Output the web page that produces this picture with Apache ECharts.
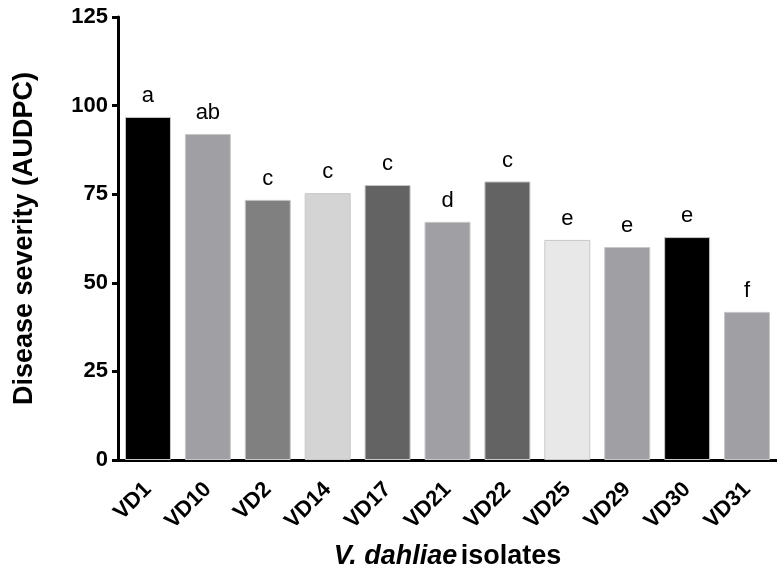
<!DOCTYPE html>
<html>
<head>
<meta charset="utf-8">
<script src="https://cdn.jsdelivr.net/npm/echarts@6/dist/echarts.min.js"></script>
<style>
  html, body { margin: 0; padding: 0; background: #fff; }
  #chart { width: 777px; height: 576px; }
</style>
</head>
<body>
<div id="chart"></div>
<script>
// 数据
const isolates = ['VD1', 'VD10', 'VD2', 'VD14', 'VD17', 'VD21', 'VD22', 'VD25', 'VD29', 'VD30', 'VD31'];
const severity = [96.8, 92.0, 73.4, 75.3, 77.6, 67.2, 78.6, 62.1, 60.1, 62.9, 41.8];
const groups = ['a', 'ab', 'c', 'c', 'c', 'd', 'c', 'e', 'e', 'e', 'f'];
const barColors = ['#000000', '#a0a0a4', '#808080', '#d4d4d4', '#636363', '#a0a0a4',
  '#636363', '#e8e8e8', '#a0a0a4', '#000000', '#a0a0a4'];
const yTicks = [0, 25, 50, 75, 100, 125];

const font = 'Liberation Sans, Arial, sans-serif';
const chart = echarts.init(document.getElementById('chart'));

const option = {
  animation: false,
  grid: { left: 118, right: -7, top: 17, bottom: 116 },
  xAxis: {
    type: 'category',
    data: isolates,
    name: '{i|V. dahliae} {n|isolates}',
    nameLocation: 'middle',
    nameGap: 83,
    nameTextStyle: {
      rich: {
        i: { fontFamily: font, fontSize: 27, fontWeight: 'bold', fontStyle: 'italic', color: '#000' },
        n: { fontFamily: font, fontSize: 27, fontWeight: 'bold', color: '#000' }
      }
    },
    axisLine: { lineStyle: { color: '#000', width: 3 } },
    axisTick: { alignWithLabel: true, length: 6, lineStyle: { color: '#000', width: 3 } },
    axisLabel: {
      rotate: 45, margin: 26, interval: 0,
      fontFamily: font, fontSize: 22, fontWeight: 'bold', color: '#000'
    }
  },
  yAxis: {
    type: 'value',
    min: 0, max: 125, interval: 25,
    name: 'Disease severity (AUDPC)',
    nameLocation: 'middle',
    nameGap: 80,
    nameTextStyle: { fontFamily: font, fontSize: 27, fontWeight: 'bold', color: '#000' },
    axisLine: { show: true, lineStyle: { color: '#000', width: 3 } },
    axisTick: { show: true, length: 6, lineStyle: { color: '#000', width: 3 } },
    axisLabel: {
      margin: 10, fontFamily: font, fontSize: 22, fontWeight: 'bold', color: '#000',
      formatter: v => (yTicks.includes(v) ? String(v) : '')
    },
    splitLine: { show: false }
  },
  series: [{
    type: 'bar',
    barWidth: 46,
    data: severity.map((v, i) => ({
      value: v,
      itemStyle: { color: barColors[i], borderColor: '#c8c8c8', borderWidth: 1 },
      label: { formatter: groups[i] }
    })),
    label: {
      show: true, position: 'top', distance: 10,
      fontFamily: font, fontSize: 22, color: '#000'
    }
  }]
};

chart.setOption(option);
</script>
</body>
</html>
